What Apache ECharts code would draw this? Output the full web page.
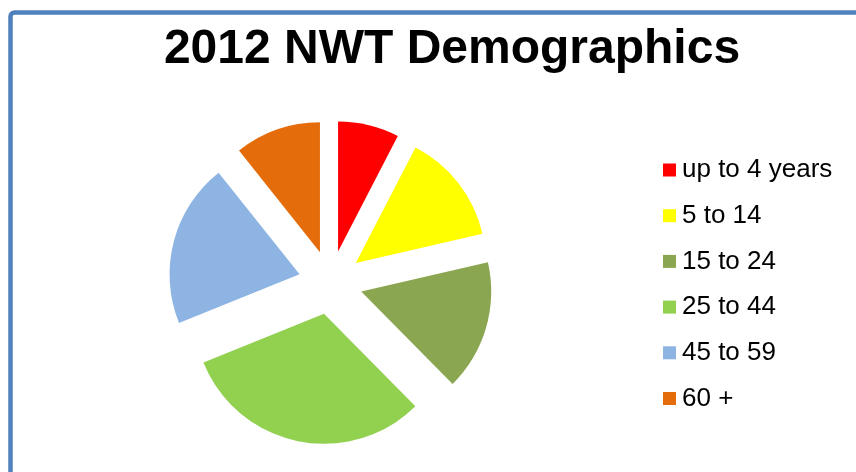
<!DOCTYPE html>
<html>
<head>
<meta charset="utf-8">
<style>
html,body{margin:0;padding:0;background:#fff;}
#c{width:856px;height:472px;}
</style>
<script src="https://cdn.jsdelivr.net/npm/echarts@6/dist/echarts.min.js"></script>
</head>
<body>
<div id="c"></div>
<script>
var categories = ['up to 4 years', '5 to 14', '15 to 24', '25 to 44', '45 to 59', '60 +'];
var values = [7.6, 13.8, 16.2, 31.3, 20.4, 10.7];
var colors = ['#FF0000', '#FFFF00', '#8BA650', '#92D050', '#8EB4E3', '#E46C0A'];

var chart = echarts.init(document.getElementById('c'), null, {renderer: 'canvas'});
var data = categories.map(function (name, i) {
  return {name: name, value: values[i], selected: true, itemStyle: {color: colors[i]}};
});
chart.setOption({
  animation: false,
  backgroundColor: '#fff',
  graphic: [{
    type: 'rect',
    shape: {x: 10.5, y: 12.5, width: 900, height: 520, r: 4},
    style: {fill: 'none', stroke: '#4F81BD', lineWidth: 4.5},
    silent: true
  }],
  title: {
    text: '2012 NWT Demographics',
    left: 447, top: 21, textAlign: 'center',
    textStyle: {fontFamily: 'Liberation Sans', fontWeight: 'bold', fontSize: 48, color: '#000'}
  },
  legend: {
    orient: 'vertical',
    left: 663, top: 157,
    padding: 0,
    itemWidth: 13, itemHeight: 13, itemGap: 19.7,
    icon: 'rect',
    selectedMode: false,
    data: categories,
    textStyle: {fontFamily: 'Liberation Sans', fontSize: 26, lineHeight: 26, padding: [0, 0, 0, 1], color: '#000'}
  },
  series: [{
    type: 'pie',
    center: [330.5, 282.5],
    radius: [0, 130],
    startAngle: 90,
    clockwise: true,
    selectedMode: 'multiple',
    selectedOffset: 32,
    avoidLabelOverlap: false,
    label: {show: false},
    labelLine: {show: false},
    emphasis: {disabled: true},
    data: data
  }]
});
</script>
</body>
</html>
